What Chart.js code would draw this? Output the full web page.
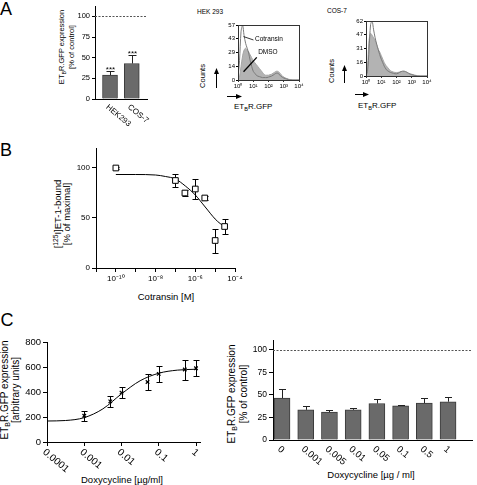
<!DOCTYPE html>
<html><head><meta charset="utf-8"><title>Figure</title>
<script src="https://cdn.jsdelivr.net/npm/chart.js@4.4.1/dist/chart.umd.min.js"></script>
<style>
html,body{margin:0;padding:0;background:#fff}
#root{position:relative;width:477px;height:485px;overflow:hidden;font-family:"Liberation Sans",Arial,Helvetica,sans-serif;color:#000;background:#fff}
#root canvas{position:absolute}
.t{position:absolute;white-space:nowrap;line-height:1;transform:translate(-50%,-50%)}
.t.v{transform:translate(-50%,-50%) rotate(-90deg)}
.l{position:absolute;white-space:nowrap;line-height:1;transform:translate(0,-50%)}
sub{font-size:70%;vertical-align:-0.3em;line-height:0}
sup{font-size:70%;vertical-align:0.45em;line-height:0}
svg{position:absolute;left:0;top:0}
</style></head>
<body><div id="root">
<div class="t" style="left:6px;top:9px;font-size:18px">A</div>
<div class="t" style="left:6px;top:150px;font-size:18px">B</div>
<div class="t" style="left:7px;top:320px;font-size:18px">C</div>

<div class="t v" style="left:62px;top:47px;font-size:7.5px">ET<sub>B</sub>R.GFP expression</div>
<div class="t v" style="left:72px;top:47px;font-size:7.5px">[% of control]</div>

<div class="l" style="left:197px;top:12px;font-size:6.5px">HEK 293</div>
<div class="t v" style="left:203px;top:76px;font-size:7.5px">Counts</div>
<div class="l" style="left:234px;top:107px;font-size:8px">ET<sub>B</sub>R.GFP</div>

<div class="l" style="left:327px;top:11px;font-size:6.5px">COS-7</div>
<div class="t v" style="left:332px;top:71px;font-size:7.5px">Counts</div>
<div class="l" style="left:358px;top:106px;font-size:8px">ET<sub>B</sub>R.GFP</div>

<div class="t v" style="left:58px;top:214px;font-size:9.5px">[<sup>125</sup>I]ET-1-bound</div>
<div class="t v" style="left:67px;top:214px;font-size:9.5px">[% of maximal]</div>
<div class="t" style="left:166px;top:297px;font-size:9.5px">Cotransin [M]</div>

<div class="t v" style="left:5px;top:390px;font-size:10px">ET<sub>B</sub>R.GFP expression</div>
<div class="t v" style="left:16px;top:390px;font-size:10px">[arbitrary units]</div>
<div class="t" style="left:122px;top:480px;font-size:9.5px">Doxycycline [µg/ml]</div>

<div class="t v" style="left:232px;top:394px;font-size:10px">ET<sub>B</sub>R.GFP expression</div>
<div class="t v" style="left:244px;top:394px;font-size:10px">[% of control]</div>
<div class="t" style="left:371px;top:475px;font-size:9.5px">Doxycycline [µg / ml]</div>

<svg width="477" height="485">
<defs><marker id="ah" markerWidth="6" markerHeight="6" refX="5" refY="3" orient="auto" markerUnits="userSpaceOnUse"><path d="M0,0.5 L6,3 L0,5.5 z" fill="#000"/></marker></defs>
<line x1="216.5" y1="88" x2="216.5" y2="69" stroke="#000" stroke-width="1" marker-end="url(#ah)"/>
<line x1="227" y1="96.5" x2="241" y2="96.5" stroke="#000" stroke-width="1" marker-end="url(#ah)"/>
<line x1="344.5" y1="83" x2="344.5" y2="66" stroke="#000" stroke-width="1" marker-end="url(#ah)"/>
<line x1="355" y1="94.5" x2="368" y2="94.5" stroke="#000" stroke-width="1" marker-end="url(#ah)"/>
</svg>
</div>
<script>
// ---------------- DATA ----------------
// Panel A: bar chart
const aCategories = ['HEK293', 'COS-7'];
const aValues = [29, 43];
const aErrors = [5, 10];
const aSignificance = ['***', '***'];
const aYTicks = [0, 25, 50, 75, 100];
const controlLevel = 100;

// Panel A: flow cytometry histograms
const histBins = [1, 1.26, 1.58, 2, 2.51, 3.16, 3.98, 5.01, 6.31, 7.94, 10, 12.6, 15.8, 20, 25.1, 31.6, 39.8, 50.1, 63.1, 79.4, 100, 126, 158, 200, 251, 316, 398, 501, 631, 794, 1000, 1585, 2512, 3981, 10000];
const hekCotransin = [2, 20, 50, 57, 46, 38, 33, 28, 20, 14, 9, 7, 5, 4, 3.5, 3, 2.5, 2.5, 2.5, 2.5, 3, 3.5, 4, 5, 6, 7, 7, 6, 4, 3, 2, 1, 0, 0, 0];
const hekDMSO = [0, 3, 14, 25, 31, 33, 31, 29, 26, 23, 20, 18, 16, 14, 12, 10, 8, 6, 5, 5, 5, 5.5, 6, 7, 8, 9, 9, 8, 6, 4.5, 3, 1.5, 0.5, 0, 0];
const cosCotransin = [0, 5, 30, 58, 62, 52, 43, 36, 30, 24, 19, 15, 11, 8, 6, 5, 4, 3.5, 3, 2.5, 2.5, 3, 4, 5, 5.5, 5.5, 5, 4, 3, 2, 1.5, 0.5, 0, 0, 0];
const cosDMSO = [0, 10, 40, 48, 46, 43, 40, 35, 30, 27, 23, 19, 15, 12, 10, 8, 6, 5, 4.5, 4, 4, 4, 4.5, 5, 5, 5, 4.5, 4, 3, 2.5, 2, 1, 0.3, 0, 0];
const histXTicks = [1, 10, 100, 1000, 10000];
const histXLabels = ['10\u2070', '10\u00B9', '10\u00B2', '10\u00B3', '10\u2074'];
const hekYTicks = [0, 14.25, 28.5, 42.75, 57];
const hekYLabels = ['0', '14', '29', '43', '57'];
const cosYTicks = [0, 15.5, 31, 46.5, 62];
const cosYLabels = ['0', '16', '31', '47', '62'];

// Panel B
const bConcentration = [1e-10, 1e-7, 3e-7, 1e-6, 3e-6, 1e-5, 3e-5];
const bBound = [100, 87.5, 75, 79, 70, 27.5, 41.5];
const bError = [1, 6.5, 3, 10, 2, 12, 7.5];
const bFitConcentration = [1e-10, 1e-9, 1e-8, 3.16e-8, 1e-7, 3.16e-7, 1e-6, 3.16e-6, 1e-5, 1.78e-5, 3.16e-5];
const bFitBound = [93.5, 93.5, 93, 91.5, 89, 82, 73, 61, 49, 44.5, 41.5];
const bXTicks = [1e-11, 1e-10, 1e-9, 1e-8, 1e-7, 1e-6, 1e-5, 1e-4];
const bXLabels = ['', '10\u207B\u00B9\u2070', '', '10\u207B\u2078', '', '10\u207B\u2076', '', '10\u207B\u2074'];
const bYTicks = [0, 50, 100];

// Panel C left
const cDox = [0.001, 0.005, 0.01, 0.05, 0.1, 0.5, 1];
const cExpression = [210, 325, 395, 480, 545, 580, 590];
const cError = [40, 45, 45, 65, 65, 80, 65];
const cFitDox = [0.0001, 0.000316, 0.001, 0.00316, 0.01, 0.0316, 0.1, 0.316, 1];
const cFitExpression = [168, 172, 195, 265, 385, 490, 550, 575, 582];
const cXTicks = [0.0001, 0.001, 0.01, 0.1, 1];
const cXLabels = ['0.0001', '0.001', '0.01', '0.1', '1'];
const cYTicks = [0, 200, 400, 600, 800];

// Panel C right
const crCategories = ['0', '0.001', '0.005', '0.01', '0.05', '0.1', '0.5', '1'];
const crValues = [46.5, 33.5, 31, 33.5, 40.5, 38, 41, 42.5];
const crErrors = [10.5, 4.5, 2.5, 2.5, 5, 1, 5.5, 5];
const crYTicks = [0, 25, 50, 75, 100];

// ---------------- HELPERS ----------------
const FONT = '"Liberation Sans", Arial, sans-serif';
Chart.defaults.font.family = FONT;
Chart.defaults.color = '#000';
Chart.defaults.animation = false;
Chart.defaults.plugins.legend.display = false;
Chart.defaults.plugins.tooltip.enabled = false;
const root = document.getElementById('root');

function makeCanvas(b) {
  const c = document.createElement('canvas');
  c.width = b.cw; c.height = b.ch;
  c.style.left = b.cl + 'px'; c.style.top = b.ct + 'px';
  c.style.width = b.cw + 'px'; c.style.height = b.ch + 'px';
  root.appendChild(c);
  return c;
}
function frame(b) {
  return {
    padding: {left: 0, bottom: 0, top: b.pt - b.ct, right: b.cl + b.cw - b.pr},
    yFit: s => { s.width = b.pl - b.cl; },
    xFit: s => { s.height = b.ct + b.ch - b.pb; }
  };
}
function setTicks(vals) { return s => { s.ticks = vals.map(v => ({value: v})); }; }

function errorBars(o) {
  function draw(chart) {
    const ctx = chart.ctx;
    chart.data.datasets.forEach((ds, di) => {
      if (!ds.errors) return;
      const meta = chart.getDatasetMeta(di);
      const ys = chart.scales[meta.yAxisID];
      ctx.save();
      ctx.strokeStyle = o.color || '#000'; ctx.lineWidth = 1;
      meta.data.forEach((el, j) => {
        const v = ds.data[j].y, e = ds.errors[j];
        const x = Math.round(el.x) + 0.5;
        const yT = Math.round(ys.getPixelForValue(v + e)) + 0.5;
        const yB = o.up ? ys.getPixelForValue(v) : Math.round(ys.getPixelForValue(v - e)) + 0.5;
        const c = o.cap / 2;
        ctx.beginPath();
        ctx.moveTo(x, yT); ctx.lineTo(x, yB);
        ctx.moveTo(x - c, yT); ctx.lineTo(x + c, yT);
        if (!o.up) { ctx.moveTo(x - c, yB); ctx.lineTo(x + c, yB); }
        ctx.stroke();
        if (ds.significance) {
          ctx.fillStyle = '#000'; ctx.font = o.sigSize + 'px ' + FONT;
          ctx.textAlign = 'center'; ctx.textBaseline = 'alphabetic';
          ctx.fillText(ds.significance[j], x, yT + 0.5);
        }
      });
      ctx.restore();
    });
  }
  return o.before ? {id: 'errBefore', beforeDatasetsDraw: draw} : {id: 'errAfter', afterDatasetsDraw: draw};
}
function rotLabels(o) {
  return {id: 'rotLabels', afterDraw(chart) {
    const xs = chart.scales.x, ctx = chart.ctx;
    ctx.save();
    ctx.font = o.size + 'px ' + FONT; ctx.fillStyle = '#000';
    ctx.textAlign = 'left'; ctx.textBaseline = 'middle';
    o.values.forEach((v, i) => {
      const px = xs.getPixelForValue(v);
      ctx.save();
      ctx.translate(px + o.dx, chart.chartArea.bottom + o.dy);
      ctx.rotate(o.angle * Math.PI / 180);
      ctx.fillText(o.labels[i], 0, 0);
      ctx.restore();
    });
    ctx.restore();
  }};
}
function refLine(value) {
  return {id: 'refLine', afterDatasetsDraw(chart) {
    const ys = chart.scales.y, a = chart.chartArea, ctx = chart.ctx;
    const y = Math.round(ys.getPixelForValue(value)) + 0.5;
    ctx.save(); ctx.setLineDash([2, 1.5]); ctx.strokeStyle = '#555'; ctx.lineWidth = 1;
    ctx.beginPath(); ctx.moveTo(a.left, y); ctx.lineTo(a.right, y); ctx.stroke(); ctx.restore();
  }};
}
const boxFrame = {id: 'boxFrame', afterDraw(chart) {
  const a = chart.chartArea, ctx = chart.ctx;
  ctx.save(); ctx.strokeStyle = '#333'; ctx.lineWidth = 1;
  ctx.strokeRect(Math.round(a.left) + 0.5, Math.round(a.top) + 0.5, Math.round(a.right - a.left), Math.round(a.bottom - a.top));
  ctx.restore();
}};
function annot(o) {
  return {id: 'annot', afterDatasetsDraw(chart) {
    const xs = chart.scales.x, ys = chart.scales.y, ctx = chart.ctx;
    ctx.save();
    o.lines.forEach(l => {
      ctx.strokeStyle = '#000'; ctx.lineWidth = l.w;
      ctx.beginPath(); ctx.moveTo(xs.getPixelForValue(l.x1), ys.getPixelForValue(l.y1));
      ctx.lineTo(xs.getPixelForValue(l.x2), ys.getPixelForValue(l.y2)); ctx.stroke();
    });
    o.texts.forEach(t => {
      ctx.font = t.size + 'px ' + FONT; ctx.fillStyle = '#000'; ctx.textAlign = 'left'; ctx.textBaseline = 'middle';
      ctx.fillText(t.t, xs.getPixelForValue(t.x), ys.getPixelForValue(t.y));
    });
    ctx.restore();
  }};
}
const pts = (xs, ys) => xs.map((x, i) => ({x: x, y: ys[i]}));
const yAxisBase = (size, len) => ({
  border: {display: true, color: '#000', width: 1},
  grid: {display: true, drawOnChartArea: false, drawTicks: true, tickLength: len, color: '#000', lineWidth: 1},
  ticks: {font: {size: size}, color: '#000', padding: 2, autoSkip: false}
});

// ---------------- PANEL A: bar chart ----------------
(function () {
  const b = {cl: 70, ct: 0, cw: 82, ch: 130, pl: 95, pt: 5, pr: 147, pb: 99};
  const f = frame(b);
  const y = yAxisBase(7.5, 3);
  new Chart(makeCanvas(b), {
    type: 'bar',
    data: {datasets: [{
      data: pts(aCategories.map((c, i) => i), aValues),
      backgroundColor: '#6a6a6a', borderColor: '#3a3a3a', borderWidth: 1, barThickness: 15,
      errors: aErrors, significance: aSignificance
    }]},
    options: {
      responsive: false, layout: {padding: f.padding},
      scales: {
        x: {type: 'linear', offset: false, min: -0.69, max: 1.7, afterFit: f.xFit,
            afterBuildTicks: setTicks(aCategories.map((c, i) => i)),
            ticks: {display: false}, grid: {display: false}, border: {display: true, color: '#000'}},
        y: Object.assign(y, {min: 0, max: 112, afterFit: f.yFit, afterBuildTicks: setTicks(aYTicks)})
      }
    },
    plugins: [errorBars({up: true, cap: 8, color: '#222', sigSize: 8}),
              rotLabels({labels: aCategories, values: aCategories.map((c, i) => i), angle: 40, size: 8, dx: -3, dy: 7}),
              refLine(controlLevel)]
  });
})();

// ---------------- PANEL A: histograms ----------------
function histogram(b, cot, dmso, yTicks, yLabels, yMax, extra) {
  const f = frame(b);
  const y = yAxisBase(6, 2);
  y.ticks.callback = (v, i) => yLabels[i];
  y.ticks.padding = 1;
  const plugins = [boxFrame];
  if (extra) plugins.push(extra);
  new Chart(makeCanvas(b), {
    type: 'scatter',
    data: {datasets: [
      {label: 'Cotransin', data: pts(histBins, cot), showLine: true, fill: false, borderColor: '#7a7a7a', borderWidth: 1, pointRadius: 0, tension: 0.3},
      {label: 'DMSO', data: pts(histBins, dmso), showLine: true, fill: 'origin', backgroundColor: '#b3b3b3', borderColor: '#a5a5a5', borderWidth: 1, pointRadius: 0, tension: 0.3}
    ]},
    options: {
      responsive: false, layout: {padding: f.padding},
      scales: {
        x: {type: 'logarithmic', min: 1, max: 10000, afterFit: f.xFit, afterBuildTicks: setTicks(histXTicks),
            border: {display: true, color: '#333'},
            grid: {display: true, drawOnChartArea: false, drawTicks: true, tickLength: 2, color: '#333'},
            ticks: {font: {size: 6}, padding: 1, autoSkip: false, maxRotation: 0, minRotation: 0, callback: (v, i) => histXLabels[i]}},
        y: Object.assign(y, {min: 0, max: yMax, afterFit: f.yFit, afterBuildTicks: setTicks(yTicks)})
      }
    },
    plugins: plugins
  });
}
histogram({cl: 218, ct: 17, cw: 90, ch: 75, pl: 238, pt: 25, pr: 299, pb: 80},
  hekCotransin, hekDMSO, hekYTicks, hekYLabels, 57,
  annot({
    lines: [{x1: 2.3, y1: 45, x2: 10.3, y2: 41.5, w: 0.8}, {x1: 2.3, y1: 8.6, x2: 17, y2: 23.5, w: 1.3}],
    texts: [{x: 13, y: 42.5, t: 'Cotransin', size: 6.5}, {x: 21, y: 29, t: 'DMSO', size: 6.5}]
  }));
histogram({cl: 346, ct: 13, cw: 90, ch: 75, pl: 366, pt: 21, pr: 427, pb: 76},
  cosCotransin, cosDMSO, cosYTicks, cosYLabels, 62, null);

// ---------------- PANEL B ----------------
(function () {
  const b = {cl: 70, ct: 140, cw: 175, ch: 145, pl: 96, pt: 148, pr: 235, pb: 268};
  const f = frame(b);
  const y = yAxisBase(8, 4);
  new Chart(makeCanvas(b), {
    type: 'scatter',
    data: {datasets: [
      {data: pts(bConcentration, bBound), pointStyle: 'rect', pointRadius: 4, backgroundColor: '#fff', borderColor: '#000', borderWidth: 1, errors: bError},
      {data: pts(bFitConcentration, bFitBound), showLine: true, borderColor: '#000', borderWidth: 1, pointRadius: 0, cubicInterpolationMode: 'monotone'}
    ]},
    options: {
      responsive: false, layout: {padding: f.padding},
      scales: {
        x: {type: 'logarithmic', min: 1e-11, max: 1e-4, afterFit: f.xFit, afterBuildTicks: setTicks(bXTicks),
            border: {display: true, color: '#000'},
            grid: {display: true, drawOnChartArea: false, drawTicks: true, tickLength: 4, color: '#000'},
            ticks: {font: {size: 8}, padding: 2, autoSkip: false, maxRotation: 0, minRotation: 0, callback: (v, i) => bXLabels[i]}},
        y: Object.assign(y, {min: 0, max: 120, afterFit: f.yFit, afterBuildTicks: setTicks(bYTicks)})
      }
    },
    plugins: [errorBars({up: false, cap: 6, color: '#000', before: true})]
  });
})();

// ---------------- PANEL C left ----------------
(function () {
  const b = {cl: 20, ct: 332, cw: 188, ch: 142, pl: 47, pt: 342, pr: 200, pb: 442};
  const f = frame(b);
  const y = yAxisBase(9.5, 4);
  new Chart(makeCanvas(b), {
    type: 'scatter',
    data: {datasets: [
      {data: pts(cDox, cExpression), pointStyle: 'crossRot', pointRadius: 2.5, borderColor: '#000', borderWidth: 1.2, errors: cError},
      {data: pts(cFitDox, cFitExpression), showLine: true, borderColor: '#000', borderWidth: 1, pointRadius: 0, cubicInterpolationMode: 'monotone'}
    ]},
    options: {
      responsive: false, layout: {padding: f.padding},
      scales: {
        x: {type: 'logarithmic', min: 0.0001, max: 1.28, afterFit: f.xFit, afterBuildTicks: setTicks(cXTicks),
            border: {display: true, color: '#000'},
            grid: {display: true, drawOnChartArea: false, drawTicks: true, tickLength: 4, color: '#000'},
            ticks: {display: false}},
        y: Object.assign(y, {min: 0, max: 800, afterFit: f.yFit, afterBuildTicks: setTicks(cYTicks)})
      }
    },
    plugins: [errorBars({up: false, cap: 6, color: '#000', before: true}),
              rotLabels({labels: cXLabels, values: cXTicks, angle: 40, size: 10, dx: -3, dy: 9})]
  });
})();

// ---------------- PANEL C right ----------------
(function () {
  const b = {cl: 250, ct: 332, cw: 227, ch: 142, pl: 273, pt: 340, pr: 472, pb: 440};
  const f = frame(b);
  const y = yAxisBase(8.5, 4);
  new Chart(makeCanvas(b), {
    type: 'bar',
    data: {datasets: [{
      data: pts(crCategories.map((c, i) => i), crValues),
      backgroundColor: '#6a6a6a', borderColor: '#3a3a3a', borderWidth: 1, barThickness: 16,
      errors: crErrors
    }]},
    options: {
      responsive: false, layout: {padding: f.padding},
      scales: {
        x: {type: 'linear', offset: false, min: -0.38, max: 8.01, afterFit: f.xFit,
            afterBuildTicks: setTicks(crCategories.map((c, i) => i)),
            ticks: {display: false}, grid: {display: false}, border: {display: true, color: '#000'}},
        y: Object.assign(y, {min: 0, max: 111, afterFit: f.yFit, afterBuildTicks: setTicks(crYTicks)})
      }
    },
    plugins: [errorBars({up: true, cap: 7, color: '#222'}),
              rotLabels({labels: crCategories, values: crCategories.map((c, i) => i), angle: 40, size: 9.5, dx: -3, dy: 8}),
              refLine(controlLevel)]
  });
})();
</script>
</body></html>
